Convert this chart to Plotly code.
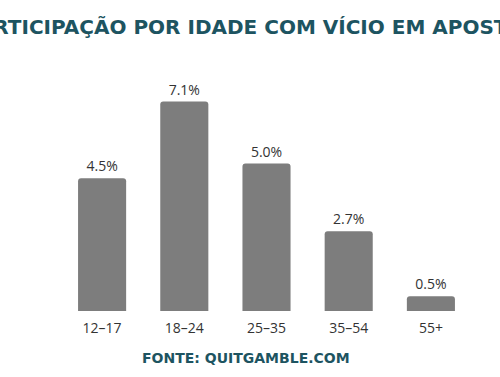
import plotly.graph_objects as go

categories = ["12–17", "18–24", "25–35", "35–54", "55+"]
values = [4.5, 7.1, 5.0, 2.7, 0.5]
title_text = "PARTICIPAÇÃO POR IDADE COM VÍCIO EM APOSTAS"
source_text = "FONTE: QUITGAMBLE.COM"

TEAL = "#1d5461"

fig = go.Figure(go.Bar(
    x=categories,
    y=values,
    width=0.585,
    marker=dict(color="#7d7d7d", cornerradius=3, line=dict(width=0)),
    text=[f"{v:.1f}%" for v in values],
    textposition="outside",
    textfont=dict(family="Open Sans", size=14, color="#333333"),
    cliponaxis=False,
))

fig.update_layout(
    width=500, height=377,
    margin=dict(l=61, r=28, t=75, b=66),
    paper_bgcolor="white", plot_bgcolor="white",
    showlegend=False,
    bargap=0.415,
    xaxis=dict(range=[-0.5, 4.5], showgrid=False, zeroline=False, showline=False,
               ticks="outside", ticklen=4, tickcolor="rgba(0,0,0,0)",
               tickfont=dict(family="Open Sans", size=14, color="#333333")),
    yaxis=dict(range=[0, 8], visible=False),
    annotations=[
        dict(text=f"<b>{title_text}</b>", xref="paper", yref="paper",
             x=0.46, y=1.203, xanchor="center", yanchor="middle", showarrow=False,
             font=dict(family="DejaVu Sans", size=20, color=TEAL)),
        dict(text=f"<b>{source_text}</b>", xref="paper", yref="paper",
             x=0.451, y=-0.199, xanchor="center", yanchor="middle", showarrow=False,
             font=dict(family="DejaVu Sans", size=14, color=TEAL)),
    ],
)

fig.write_html("out.html")
